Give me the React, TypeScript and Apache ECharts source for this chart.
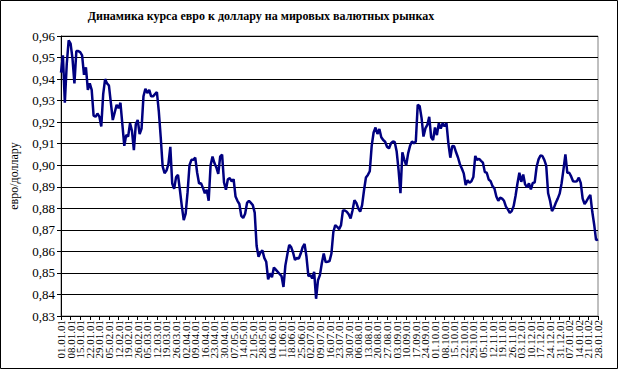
import React, { useEffect, useRef } from "react";
import * as echarts from "echarts";

const chartTitle = "Динамика курса евро к доллару на мировых валютных рынках";
const yAxisName = "евро/доллару";

const weekLabels = [
  "01.01.01", "08.01.01", "15.01.01", "22.01.01", "29.01.01",
  "05.02.01", "12.02.01", "19.02.01", "26.02.01",
  "05.03.01", "12.03.01", "19.03.01", "26.03.01",
  "02.04.01", "09.04.01", "16.04.01", "23.04.01", "30.04.01",
  "07.05.01", "14.05.01", "21.05.01", "28.05.01",
  "04.06.01", "11.06.01", "18.06.01", "25.06.01",
  "02.07.01", "09.07.01", "16.07.01", "23.07.01", "30.07.01",
  "06.08.01", "13.08.01", "20.08.01", "27.08.01",
  "03.09.01", "10.09.01", "17.09.01", "24.09.01",
  "01.10.01", "08.10.01", "15.10.01", "22.10.01", "29.10.01",
  "05.11.01", "12.11.01", "19.11.01", "26.11.01",
  "03.12.01", "10.12.01", "17.12.01", "24.12.01", "31.12.01",
  "07.01.02", "14.01.02", "21.01.02", "28.01.02",
];

// daily (business-day) euro/dollar rate
const rates = [
  0.943, 0.951, 0.929, 0.947, 0.958,
  0.9565, 0.9495, 0.938, 0.953, 0.953,
  0.9525, 0.951, 0.942, 0.9455, 0.935,
  0.938, 0.935, 0.923, 0.9225, 0.924,
  0.9226, 0.918, 0.933, 0.94, 0.938,
  0.937, 0.929, 0.921, 0.9245, 0.928,
  0.9265, 0.929, 0.919, 0.909, 0.914,
  0.9133, 0.9195, 0.916, 0.907, 0.919,
  0.921, 0.9145, 0.917, 0.932, 0.9355,
  0.9335, 0.935, 0.932, 0.932, 0.933,
  0.934, 0.925, 0.913, 0.8995, 0.8963,
  0.8975, 0.9005, 0.9085, 0.8915, 0.889,
  0.8945, 0.8955, 0.8885, 0.881, 0.8745,
  0.8775, 0.8875, 0.9, 0.9025, 0.9025,
  0.9035, 0.8965, 0.8915, 0.8917, 0.8895,
  0.887, 0.8886, 0.8835, 0.9, 0.904,
  0.901, 0.899, 0.896, 0.904, 0.905,
  0.892, 0.8886, 0.8935, 0.894, 0.8925,
  0.8935, 0.8855, 0.8835, 0.882, 0.8765,
  0.8755, 0.8775, 0.8825, 0.8835, 0.8825,
  0.8815, 0.878, 0.8625, 0.8575, 0.8595,
  0.8605, 0.857, 0.8552, 0.847, 0.8498,
  0.848, 0.8525, 0.8515, 0.8505, 0.8495,
  0.8485, 0.8435, 0.8535, 0.8585, 0.863,
  0.862, 0.8595, 0.856, 0.857, 0.8567,
  0.859, 0.862, 0.8635, 0.8575, 0.8485,
  0.849, 0.8475, 0.8505, 0.838, 0.8466,
  0.849, 0.8545, 0.859, 0.855, 0.8552,
  0.8555, 0.859, 0.869, 0.8722, 0.8714,
  0.8703, 0.8722, 0.879, 0.879, 0.8784,
  0.8772, 0.8753, 0.879, 0.8838, 0.8825,
  0.88, 0.8784, 0.8815, 0.8884, 0.8943,
  0.8955, 0.8972, 0.909, 0.9152, 0.9175,
  0.9145, 0.9168, 0.913, 0.9117, 0.9109,
  0.9086, 0.9078, 0.9101, 0.911, 0.9108,
  0.9065, 0.898, 0.887, 0.906, 0.9025,
  0.9, 0.9055, 0.909, 0.911, 0.9102,
  0.911, 0.928, 0.9275, 0.922, 0.9133,
  0.9171, 0.9187, 0.9225, 0.913, 0.9117,
  0.9175, 0.914, 0.9195, 0.917, 0.9195,
  0.918, 0.9195, 0.91, 0.9035, 0.909,
  0.9088, 0.906, 0.9036, 0.9005, 0.8985,
  0.8962, 0.8908, 0.893, 0.8919, 0.8926,
  0.8945, 0.9043, 0.9025, 0.903, 0.902,
  0.9012, 0.8968, 0.8965, 0.8934, 0.8926,
  0.8903, 0.8892, 0.8855, 0.8835, 0.8849,
  0.8845, 0.8835, 0.8808, 0.8795, 0.8779,
  0.8787, 0.881, 0.8857, 0.8915, 0.8965,
  0.8923, 0.8957, 0.8911, 0.8898, 0.8916,
  0.8888, 0.8918, 0.892, 0.8993, 0.9027,
  0.9045, 0.9043, 0.9025, 0.8998, 0.887,
  0.8835, 0.8787, 0.8802, 0.8826, 0.8845,
  0.8868, 0.8915, 0.8981, 0.905, 0.8965,
  0.8965, 0.8948, 0.8926, 0.8924, 0.8926,
  0.8942, 0.8918, 0.8845, 0.882, 0.8833,
  0.8849, 0.8862, 0.8785, 0.8725, 0.8652,
  0.8656,
];

const yMin = 0.83;
const yMax = 0.96;
const yStep = 0.01;

const dayNames = ["", "вт", "ср", "чт", "пт"];
const daysPerWeek = dayNames.length;

export default function App() {
  const ref = useRef<HTMLDivElement>(null);

  useEffect(() => {
    if (!ref.current) return;
    const chart = echarts.init(ref.current, undefined, { renderer: "svg" });

    const categories: string[] = [];
    weekLabels.forEach((w) => {
      dayNames.forEach((d) => {
        categories.push(d ? `${w} ${d}` : w);
      });
    });
    categories.length = rates.length;

    const serif = "'Liberation Serif', 'Times New Roman', serif";

    chart.setOption({
      animation: false,
      backgroundColor: "#ffffff",
      grid: {
        left: 60,
        right: 20,
        top: 36,
        bottom: 53,
        show: true,
        borderColor: "#808080",
        borderWidth: 1,
        backgroundColor: "#ffffff",
      },
      graphic: [
        {
          type: "rect",
          shape: { x: 0.5, y: 0.5, width: 617, height: 368 },
          style: { fill: "none", stroke: "#000000", lineWidth: 1 },
          silent: true,
          z: 100,
        },
        {
          type: "text",
          x: 261,
          y: 16,
          style: {
            text: chartTitle,
            font: `bold 12px ${serif}`,
            fill: "#000000",
            textAlign: "center",
            textVerticalAlign: "middle",
          },
        },
      ],
      xAxis: {
        type: "category",
        data: categories,
        boundaryGap: false,
        axisLine: { lineStyle: { color: "#000000", width: 1 } },
        axisTick: {
          show: true,
          interval: daysPerWeek - 1,
          length: 4,
          lineStyle: { color: "#000000" },
        },
        axisLabel: {
          interval: 0,
          rotate: 90,
          hideOverlap: false,
          fontFamily: serif,
          fontSize: 11,
          color: "#000000",
          margin: 4,
          formatter: (val: string, idx: number) =>
            idx % daysPerWeek === 0 ? val : "",
        },
        splitLine: { show: false },
      },
      yAxis: {
        type: "value",
        min: yMin,
        max: yMax,
        interval: yStep,
        name: yAxisName,
        nameLocation: "middle",
        nameGap: 41,
        nameTextStyle: { fontFamily: serif, fontSize: 12, color: "#000000" },
        axisLine: { show: true, lineStyle: { color: "#000000", width: 1 } },
        axisTick: { show: true, length: 4, lineStyle: { color: "#000000" } },
        axisLabel: {
          fontFamily: serif,
          fontSize: 13,
          color: "#000000",
          margin: 6,
          showMinLabel: true,
          showMaxLabel: true,
          formatter: (v: number) => v.toFixed(2).replace(".", ","),
        },
        splitLine: { show: true, lineStyle: { color: "#000000", width: 1 } },
      },
      series: [
        {
          type: "line",
          data: rates,
          showSymbol: false,
          symbol: "none",
          lineStyle: { color: "#000080", width: 2.5 },
        },
      ],
    });

    return () => chart.dispose();
  }, []);

  return (
    <div
      ref={ref}
      style={{ position: "absolute", left: 0, top: 0, width: 618, height: 369 }}
    />
  );
}
